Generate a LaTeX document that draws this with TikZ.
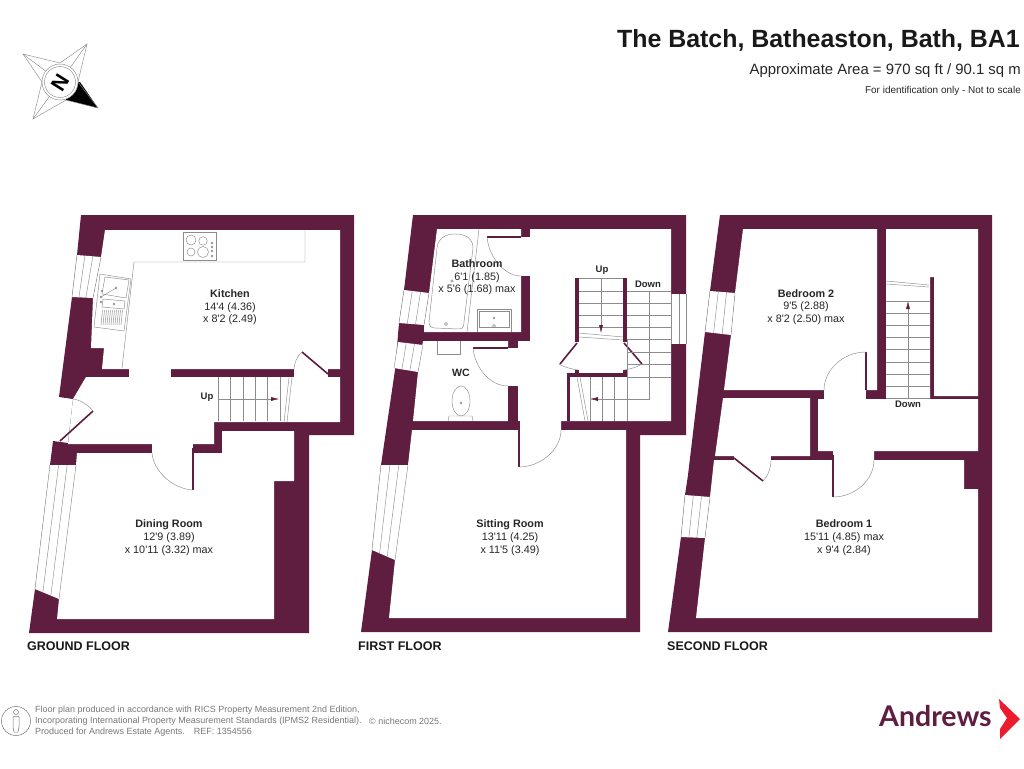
\documentclass[tikz,border=0pt]{standalone}
\usepackage{fontspec}
\newfontfamily\plansans{Liberation Sans}
\newfontfamily\logosans{Lato}
\usetikzlibrary{calc,arrows.meta}
\definecolor{wallcol}{HTML}{5F1D3F}
\definecolor{linecol}{HTML}{8C8C8C}
\definecolor{footcol}{HTML}{777777}
\definecolor{logored}{HTML}{EC1C2E}
\tikzset{
  wall/.style={fill=wallcol,draw=none},
  room/.style={fill=white,draw=none},
  fitting/.style={draw=linecol,line width=.45pt},
  leaf/.style={draw=wallcol,line width=1.6pt},
  roomtext/.style={font=\plansans\fontsize{10.8}{12.7}\selectfont,align=center,inner sep=0pt,text=black!85},
  steptext/.style={font=\plansans\bfseries\fontsize{9.5}{11}\selectfont,inner sep=0pt,text=black!85},
  floortext/.style={font=\plansans\bfseries\fontsize{12.5}{14}\selectfont,inner sep=0pt,anchor=west,text=black!90},
  foottext/.style={font=\plansans\fontsize{8.98}{11}\selectfont,inner sep=0pt,anchor=west,align=left,text=footcol},
}
\newcommand{\winquad}[4]{
  \fill[white] #1--#2--#3--#4--cycle;
  \draw[fitting] #1--#4;
  \draw[fitting] #2--#3;
  \draw[fitting] ($#1!.33!#2$)--($#4!.33!#3$);
  \draw[fitting] ($#1!.66!#2$)--($#4!.66!#3$);
}
\begin{document}
\begin{tikzpicture}[x=1pt,y=-1pt,>={Latex[length=8pt,width=4pt,color=wallcol]}]
\useasboundingbox (0,0) rectangle (1024,768);
% ground floor
\fill[wall] (81,215)--(354,215)--(354,435)--(309,435)--(309,633)--(29,633)--(35,589)--(50,465)--(53,441)--(68,443)--(73,399)--(59,397)--(72,297)--(77,255)--cycle;
\fill[room] (105,230)--(340,230)--(340,369)--(102,369)--(104,348)--(91,348)--(93,298)--(101,257)--cycle;
\fill[room] (86,377)--(340,377)--(340,422)--(214,422)--(214,444)--(68,444)--(73,399)--cycle;
\fill[room] (77,453)--(222,453)--(222,431)--(294,431)--(294,481)--(274,481)--(274,619)--(57,619)--(59,599)--(49,590)--(35,589)--(50,465)--(63,468)--(76,465)--cycle;
\fill[room] (129,366) rectangle (171,380);
\fill[room] (294,366) rectangle (328,380);
\fill[room] (152,441) rectangle (193,456);
\winquad{(77,255)}{(101,257)}{(93,298)}{(72,297)}
\winquad{(50,465)}{(76,465)}{(59,599)}{(35,589)}
\draw[leaf] (193,448)--(193,490);
\draw[leaf] (93,411)--(60,441);
\draw[leaf] (328,374)--(302,352);
\draw[fitting] (193,490) .. controls (172,489) and (153,470) .. (152,453);
\draw[fitting] (73,399) .. controls (81,400) and (88,405) .. (93,411);
\draw[fitting] (302,352) .. controls (297,356) and (294,364) .. (294,369);
\draw[fitting] (305,230)--(305,262)--(134,262)--(122,368);
\draw[fitting] (183,232) rectangle (216,260);
\draw[fitting] (191,240) circle (5);
\draw[fitting] (203,241) circle (4.3);
\draw[fitting] (191,252) circle (4);
\draw[fitting] (203,252) circle (5.5);
\foreach \knoby in {243,247,251,256} \draw[fitting] (212,\knoby) circle (1);
\draw[fitting] (100,274)--(131,279)--(124,331)--(94,327)--cycle;
\draw[fitting] (105,277)--(129,280)--(126,298)--(102,294)--cycle;
\draw[fitting] (103,299)--(125,301)--(124,309)--(102,307)--cycle;
\foreach \i in {0,...,10} \draw[fitting] ({102.5+\i*2},310)--({101+\i*2},325);
\draw[fitting] (101,297)--(116,288);
\foreach \dotx/\doty in {102/291,101/297,101/302,114/304,116/288} \draw[fitting] (\dotx,\doty) circle (1);
\foreach \stepx in {218,230,243,255,267,280} \draw[fitting] (\stepx,377)--(\stepx,421);
\draw[fitting] (289,377)--(284,422);
\draw[fitting] (292,377)--(287,422);
\draw[fitting,->] (218,399)--(279,399);
\node[steptext] (upG) at (207,397) {Up};
\node[roomtext] (kitchen) at (230,307.5) {\textbf{Kitchen}\\14'4 (4.36)\\x 8'2 (2.49)};
\node[roomtext] (dining) at (169,537.5) {\textbf{Dining Room}\\12'9 (3.89)\\x 10'11 (3.32) max};
\node[floortext] (groundF) at (27,646) {GROUND FLOOR};
% first floor
\fill[wall] (413,215)--(686,215)--(686,435)--(640,435)--(640,632)--(361,632)--(372,550)--(381,465)--(395,370)--(399,323)--(404,290)--cycle;
\fill[room] (437,229)--(521,229)--(521,332)--(424,332)--(424,325)--(429,293)--cycle;
\fill[room] (423,341)--(508,341)--(508,348)--(518,348)--(518,386)--(508,386)--(508,421)--(413,421)--(418,372)--cycle;
\fill[room] (530,229)--(671,229)--(671,421)--(561,421)--(561,432)--(518,432)--(518,341)--(530,341)--cycle;
\fill[room] (412,430)--(626,430)--(626,618)--(389,618)--(395,560)--(386,552)--(372,550)--(381,465)--(396,467)--(408,465)--cycle;
\fill[room] (519,237) rectangle (532,276);
\winquad{(404,290)}{(429,293)}{(424,325)}{(399,323)}
\winquad{(398,342)}{(423,345)}{(418,372)}{(394,368)}
\winquad{(381,465)}{(408,465)}{(395,560)}{(372,550)}
\fill[white] (671,294) rectangle (686,344);
\draw[fitting] (671,294)--(671,344);
\draw[fitting] (679,294)--(679,344);
\draw[fitting] (686,294)--(686,344);
\fill[wall] (575,278) rectangle (579,342);
\fill[wall] (623,278) rectangle (627,342);
\fill[wall] (567,373) rectangle (627,377);
\fill[wall] (575,370) rectangle (579,374);
\fill[wall] (623,370) rectangle (627,374);
\fill[wall] (567,373) rectangle (570,421);
\fill[wall] (508,386) rectangle (517,421);
\draw[leaf] (577,343)--(560,364);
\draw[leaf] (624,343)--(642,364);
\draw[leaf] (487,237)--(521,237);
\draw[leaf] (473,348)--(508,348);
\draw[leaf] (519,421)--(519,467);
\draw[fitting] (559,364) .. controls (564,367) and (571,369) .. (578,370);
\draw[fitting] (642,364) .. controls (637,367) and (631,369) .. (624,370);
\draw[fitting] (487,237) .. controls (489,258) and (505,276) .. (521,276);
\draw[fitting] (473,348) .. controls (475,368) and (490,386) .. (508,386);
\draw[fitting] (519,467) .. controls (540,467) and (561,450) .. (561,430);
\draw[fitting] (479,229)--(467,332);
\draw[fitting] (437,248) .. controls (438,238) and (446,234) .. (455,234) .. controls (465,234) and (473,238) .. (473,248)--(464,322) .. controls (464,326) and (463,329) .. (459,329)--(435,328) .. controls (431,328) and (429,326) .. (429,322)--cycle;
\draw[fitting] (446,324) circle (1.5);
\draw[fitting] (452,281) circle (1.2);
\draw[fitting] (477,332)--(477,309)--(511,309)--(511,332);
\draw[fitting] (479,327)--(479,311)--(509,311)--(509,327)--cycle;
\draw[fitting] (494,318) circle (1);
\draw[fitting] (494,326) circle (1.5);
\draw[fitting] (437,341)--(437,354)--(460,354)--(460,341);
\draw[fitting] (461,401) ellipse (9 and 15);
\draw[fitting] (461,403) circle (1);
\draw[fitting] (448,421)--(449,416)--(472,416)--(473,421);
\foreach \stepy in {291,303,315,327} \draw[fitting] (579,\stepy)--(623,\stepy);
\draw[fitting] (579,278)--(623,278);
\foreach \stepy in {291,303,315,327,339,352,364,377} \draw[fitting] (627,\stepy)--(671,\stepy);
\draw[fitting] (579,333)--(623,337);
\draw[fitting] (579,337)--(623,340);
\draw[fitting,->] (601,278)--(601,333);
\draw[fitting,->] (649,291)--(649,399)--(590,399);
\foreach \stepx in {590,602,614,627} \draw[fitting] (\stepx,377)--(\stepx,421);
\draw[fitting] (627,340)--(627,421);
\draw[fitting] (577,377)--(585,421);
\draw[fitting] (580,377)--(588,421);
\node[steptext] (upF) at (602,270) {Up};
\node[steptext] (downF) at (648,284) {Down};
\node[roomtext] (bathroom) at (477,277.5) {\textbf{Bathroom}\\6'1 (1.85)\\x 5'6 (1.68) max};
\node[steptext,font=\plansans\bfseries\fontsize{10.6}{12}\selectfont] (wc) at (461,373) {WC};
\node[roomtext] (sitting) at (510,537.5) {\textbf{Sitting Room}\\13'11 (4.25)\\x 11'5 (3.49)};
\node[floortext] (firstF) at (358,646) {FIRST FLOOR};
% second floor
\fill[wall] (720,215)--(992,215)--(992,632)--(668,632)--(681,537)--(685,495)--(688,475)--(705,332)--(710,291)--cycle;
\fill[room] (743,229)--(877,229)--(877,390)--(724,390)--(731,335)--(735,293)--cycle;
\fill[room] (723,398)--(810,398)--(810,456)--(715,456)--cycle;
\fill[room] (886,229)--(978,229)--(978,396)--(934,396)--(934,277)--(930,277)--(930,399)--(886,399)--cycle;
\fill[room] (818,399)--(978,399)--(978,451)--(874,451)--(874,461)--(833,461)--(833,451)--(818,451)--cycle;
\fill[room] (714,460)--(964,460)--(964,489)--(978,489)--(978,618)--(696,618)--(705,538)--(710,497)--cycle;
\fill[room] (824,389) rectangle (866,400);
\fill[room] (734,455) rectangle (771,461);
\winquad{(710,291)}{(735,293)}{(731,335)}{(705,332)}
\winquad{(685,495)}{(710,497)}{(705,538)}{(681,537)}
\draw[leaf] (866,352)--(866,390);
\draw[leaf] (833,455)--(833,497);
\draw[leaf] (734,458)--(763,481);
\draw[fitting] (866,352) .. controls (843,352) and (824,370) .. (824,390);
\draw[fitting] (833,497) .. controls (855,497) and (874,480) .. (874,460);
\draw[fitting] (763,481) .. controls (768,476) and (771,468) .. (771,460);
\foreach \stepy in {301,313,325,337,349,362,374,386,398} \draw[fitting] (886,\stepy)--(930,\stepy);
\draw[fitting] (886,281)--(929,285);
\draw[fitting] (886,284)--(929,287);
\draw[fitting,->] (908,398)--(908,301);
\node[steptext] (downS) at (908,404) {Down};
\node[roomtext] (bed2) at (806,307) {\textbf{Bedroom 2}\\9'5 (2.88)\\x 8'2 (2.50) max};
\node[roomtext] (bed1) at (844,537.5) {\textbf{Bedroom 1}\\15'11 (4.85) max\\x 9'4 (2.84)};
\node[floortext] (secondF) at (667,646) {SECOND FLOOR};
% compass
\fill[black] (60,82)--(80,82)--(98,108)--(66,100)--cycle;
\draw[fitting] (23,54)--(60,63)--(87,44)--(78,82)--(98,108)--(66,100)--(33,119)--(42,82)--cycle;
\draw[fitting] (23,54)--(60,82)--(87,44);
\draw[fitting] (33,119)--(60,82);
\fill[white,draw=linecol,line width=.45pt] (60,82) circle (18);
\draw[fitting] (60,82) circle (15.5);
\node[font=\plansans\bfseries\fontsize{21}{21}\selectfont,rotate=-122,inner sep=0pt] (north) at (60,83) {N};
% title block
\node[font=\plansans\bfseries\fontsize{24.9}{26}\selectfont,anchor=east,inner sep=0pt,text=black!90] (title) at (1020,40) {The Batch, Batheaston, Bath, BA1};
\node[font=\plansans\fontsize{14.9}{16}\selectfont,anchor=east,inner sep=0pt,text=black!85] (area) at (1021,71) {Approximate Area = 970 sq ft / 90.1 sq m};
\node[font=\plansans\fontsize{9.97}{11}\selectfont,anchor=east,inner sep=0pt,text=black!85] (scale) at (1021,91) {For identification only - Not to scale};
% footer
\draw[footcol,line width=.5pt] (16,721) circle (14.5);
\draw[footcol,line width=.5pt] (16,712) circle (2.5);
\draw[footcol,line width=.5pt] (13,717) .. controls (13,716) and (19,716) .. (19,717)--(19,727)--(18,732)--(14,732)--(13,727)--cycle;
\node[foottext] (credit) at (35,721) {Floor plan produced in accordance with RICS Property Measurement 2nd Edition,\\Incorporating International Property Measurement Standards (IPMS2 Residential).\\Produced for Andrews Estate Agents.\quad REF: 1354556};
\node[foottext] (niche) at (369,721) {© nichecom 2025.};
% logo
\node[font=\logosans\bfseries\fontsize{28.5}{28}\selectfont,anchor=base west,inner sep=0pt,text=wallcol] (andrews) at (879,726) {Andrews};
\fill[logored] (999,699)--(1020,719)--(1000,739)--(1000,729)--(1007,718)--(1000,708)--cycle;
\end{tikzpicture}
\end{document}
